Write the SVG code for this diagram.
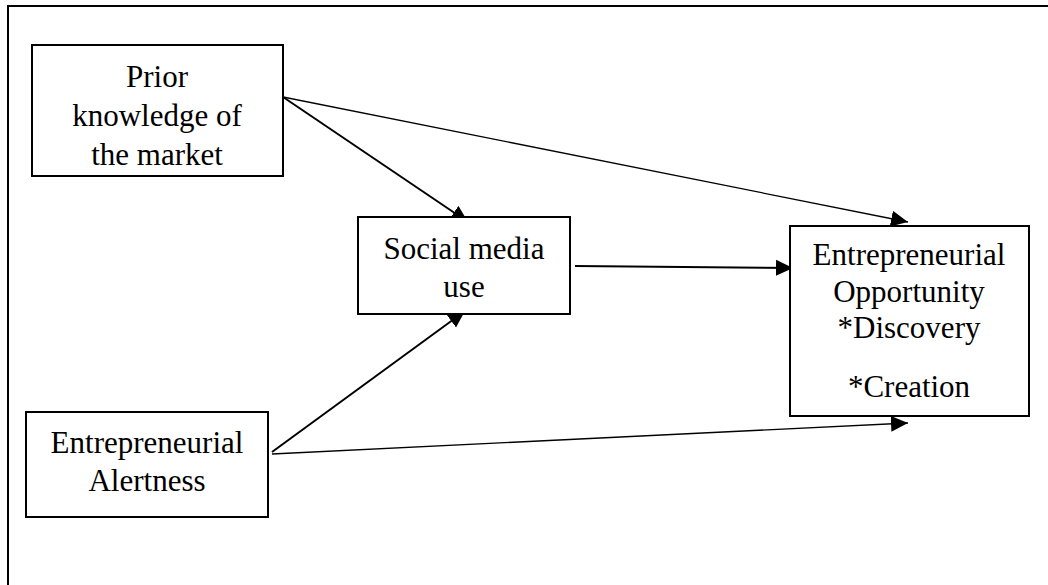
<svg xmlns="http://www.w3.org/2000/svg" width="1048" height="585" viewBox="0 0 1048 585">
<defs>
<style>
.box{fill:#fff;stroke:#000;stroke-width:2}
.lbl{font-family:"Liberation Serif","Times New Roman",serif;font-size:31px;fill:#000;text-anchor:middle}
.c{fill:none;stroke:#000;stroke-width:2}
.t{fill:none;stroke:#000;stroke-width:1.3}
</style>
<marker id="arr" markerUnits="userSpaceOnUse" markerWidth="18" markerHeight="18" viewBox="0 0 18 18" refX="17" refY="9" orient="auto">
<path d="M0,1 L17,9 L0,17 Z" fill="#000"/>
</marker>
</defs>
<rect width="1048" height="585" fill="#fff"/>
<g id="frame">
<path d="M8,585 L8,6 L1048,6" fill="none" stroke="#000" stroke-width="2"/>
</g>
<g id="connectors">
<line class="c" x1="283" y1="97" x2="468" y2="222" marker-end="url(#arr)"/>
<line class="t" x1="283" y1="97" x2="908" y2="222" marker-end="url(#arr)"/>
<line class="c" x1="575" y1="266" x2="793" y2="268" marker-end="url(#arr)"/>
<line class="c" x1="272" y1="452" x2="465" y2="311" marker-end="url(#arr)"/>
<line class="t" x1="272" y1="454" x2="908" y2="423" marker-end="url(#arr)"/>
</g>
<g id="prior">
<rect class="box" x="32" y="45" width="251" height="131"/>
<text class="lbl" x="157" y="87">Prior</text>
<text class="lbl" x="157" y="126">knowledge of</text>
<text class="lbl" x="157" y="165">the market</text>
</g>
<g id="social">
<rect class="box" x="358" y="217" width="212" height="97"/>
<text class="lbl" x="464" y="259">Social media</text>
<text class="lbl" x="464" y="297">use</text>
</g>
<g id="alertness">
<rect class="box" x="26" y="412" width="242" height="105"/>
<text class="lbl" x="147" y="453">Entrepreneurial</text>
<text class="lbl" x="147" y="491">Alertness</text>
</g>
<g id="outcome">
<rect class="box" x="790" y="226" width="239" height="190"/>
<text class="lbl" x="909" y="265">Entrepreneurial</text>
<text class="lbl" x="909" y="302">Opportunity</text>
<text class="lbl" x="909" y="338">*Discovery</text>
<text class="lbl" x="909" y="397">*Creation</text>
</g>
</svg>
